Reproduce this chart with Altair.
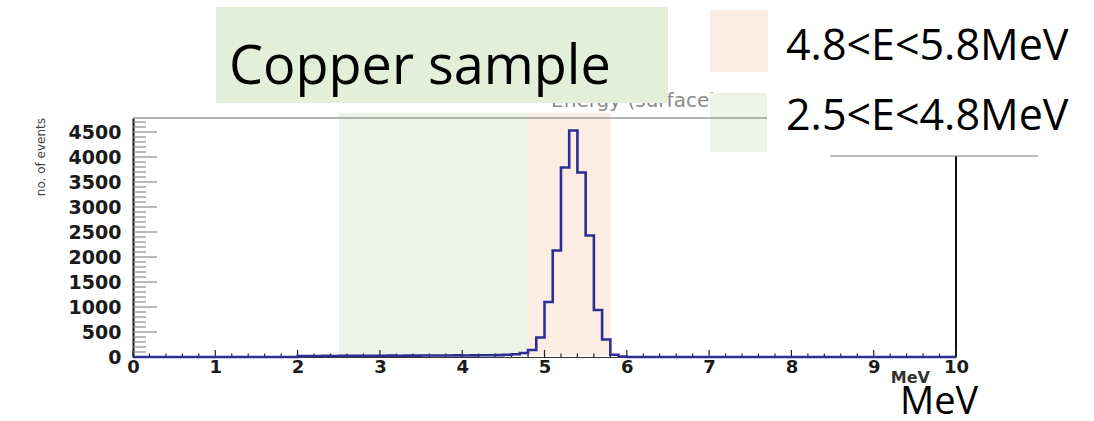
import altair as alt
import numpy as np
import pandas as pd

# Energy histogram of the copper sample, 0.1 MeV bins from 0 to 10 MeV
BIN_WIDTH = 0.1
counts = [
    0, 0, 0, 0, 0, 0, 0, 0, 0, 0,            # 0.0 - 0.9
    0, 0, 0, 0, 0, 0, 0, 0, 0, 0,            # 1.0 - 1.9
    18, 20, 20, 22, 21, 23, 24, 23, 25, 26,  # 2.0 - 2.9
    25, 27, 26, 28, 27, 29, 30, 29, 31, 32,  # 3.0 - 3.9
    31, 33, 34, 35, 38, 45, 55, 80, 140, 390,  # 4.0 - 4.9
    1100, 2130, 3790, 4530, 3690, 2430, 940, 350, 45, 8,  # 5.0 - 5.9
    0, 0, 0, 0, 0, 0, 0, 0, 0, 0,            # 6.0 - 6.9
    0, 0, 0, 0, 0, 0, 0, 0, 0, 0,            # 7.0 - 7.9
    0, 0, 0, 0, 0, 0, 0, 0, 0, 0,            # 8.0 - 8.9
    0, 0, 0, 0, 0, 0, 0, 0, 0, 0,            # 9.0 - 9.9
]

# Energy windows
band_labels = ["2.5<E<4.8MeV", "4.8<E<5.8MeV"]
band_lo = [2.5, 4.8]
band_hi = [4.8, 5.8]
band_colors = ["#edf3e7", "#fbede4"]

# Axis ticks and labels
x_major = list(range(0, 11))
x_minor = [round(v, 1) for v in np.arange(0, 10.01, 0.2) if round(v, 1) % 1 != 0]
y_major = list(range(0, 5000, 500))
y_minor = [v for v in range(0, 4800, 100) if v % 500 != 0]

X_MAX = 10
Y_MAX = 4780
W, H = 823, 239

edges = np.round(np.arange(len(counts) + 1) * BIN_WIDTH, 2)
hist = pd.DataFrame({"E": edges, "n": counts + [counts[-1]]})
bands = pd.DataFrame({"label": band_labels, "lo": band_lo, "hi": band_hi, "color": band_colors})
xmaj = pd.DataFrame({"t": x_major})
xmin = pd.DataFrame({"t": x_minor})
ymaj = pd.DataFrame({"t": y_major})
ymin = pd.DataFrame({"t": y_minor})
one = pd.DataFrame({"k": [0]})

xs = alt.Scale(domain=[0, X_MAX], nice=False, zero=False)
ys = alt.Scale(domain=[0, Y_MAX], nice=False)

LABEL_FONT = "DejaVu Sans"
BOX_FONT = "Open Sans"

band_layer = alt.Chart(bands).mark_rect().encode(
    x=alt.X("lo:Q", scale=xs, axis=None),
    x2="hi:Q",
    y=alt.value(-5),
    y2=alt.value(H - 1),
    color=alt.Color("color:N", scale=None),
)

plot_title = alt.Chart(one).mark_text(
    text="Energy (surface)", font=LABEL_FONT, fontSize=20, color="#8a8a8a",
    align="right", baseline="alphabetic",
).encode(x=alt.value(584), y=alt.value(-11))

copper_box = alt.Chart(one).mark_rect(color="#e2efd9").encode(
    x=alt.value(83), x2=alt.value(535), y=alt.value(-111), y2=alt.value(-15)
)
copper_text = alt.Chart(one).mark_text(
    text="Copper sample", font=BOX_FONT, fontSize=54, color="black",
    align="left", baseline="alphabetic",
).encode(x=alt.value(96), y=alt.value(-34))

swatch_orange = alt.Chart(one).mark_rect(color=band_colors[1]).encode(
    x=alt.value(577), x2=alt.value(635), y=alt.value(-108), y2=alt.value(-46)
)
swatch_green = alt.Chart(one).mark_rect(color=band_colors[0]).encode(
    x=alt.value(577), x2=alt.value(634), y=alt.value(-25), y2=alt.value(34)
)
legend_orange = alt.Chart(one).mark_text(
    text=band_labels[1], font=BOX_FONT, fontSize=43, color="black",
    align="left", baseline="alphabetic",
).encode(x=alt.value(653), y=alt.value(-58))
legend_green = alt.Chart(one).mark_text(
    text=band_labels[0], font=BOX_FONT, fontSize=43, color="black",
    align="left", baseline="alphabetic",
).encode(x=alt.value(653), y=alt.value(12))

# Frame pieces
top_frame = alt.Chart(one).mark_rule(color="#9a9a9a", strokeWidth=1.5).encode(
    x=alt.value(0), x2=alt.value(634), y=alt.value(0)
)
right_frame = alt.Chart(one).mark_rule(color="#111111", strokeWidth=2).encode(
    x=alt.value(W), y=alt.value(38), y2=alt.value(H)
)
stats_edge = alt.Chart(one).mark_rule(color="#777777", strokeWidth=1).encode(
    x=alt.value(697), x2=alt.value(905), y=alt.value(38)
)

# Inward ticks
xt_major = alt.Chart(xmaj).mark_rule(color="#222222", strokeWidth=1.2).encode(
    x=alt.X("t:Q", scale=xs, axis=None), y=alt.value(H), y2=alt.value(H - 7)
)
xt_minor = alt.Chart(xmin).mark_rule(color="#222222", strokeWidth=1.2).encode(
    x=alt.X("t:Q", scale=xs, axis=None), y=alt.value(H), y2=alt.value(H - 3.5)
)
yt_major = alt.Chart(ymaj).mark_rule(color="#8a8a8a", strokeWidth=1.2).encode(
    y=alt.Y("t:Q", scale=ys, axis=None), x=alt.value(0), x2=alt.value(24)
)
yt_minor = alt.Chart(ymin).mark_rule(color="#8a8a8a", strokeWidth=1.2).encode(
    y=alt.Y("t:Q", scale=ys, axis=None), x=alt.value(0), x2=alt.value(13)
)

hist_line = alt.Chart(hist).mark_line(
    interpolate="step-after", color="#2e2d94", strokeWidth=2.6
).encode(
    x=alt.X("E:Q", scale=xs, axis=alt.Axis(
        values=x_major, title=None, ticks=False, grid=False, format="d",
        domainColor="#333333", domainWidth=1,
        labelFont=LABEL_FONT, labelFontSize=18, labelFontWeight="bold",
        labelColor="#1a1a1a", labelPadding=1, labelFlush=False, labelOverlap=False,
    )),
    y=alt.Y("n:Q", scale=ys, axis=alt.Axis(
        values=y_major, title=None, ticks=False, grid=False, format="d",
        domainColor="#111111", domainWidth=2,
        labelFont=LABEL_FONT, labelFontSize=19, labelFontWeight="bold",
        labelColor="#1a1a1a", labelPadding=12, labelFlush=False, labelOverlap=False,
    )),
)

axis_unit = alt.Chart(one).mark_text(
    text="MeV", font=LABEL_FONT, fontSize=16, fontWeight="bold", color="#333333",
    align="right", baseline="alphabetic",
).encode(x=alt.value(797), y=alt.value(265))
big_unit = alt.Chart(one).mark_text(
    text="MeV", font=BOX_FONT, fontSize=38, color="black",
    align="left", baseline="alphabetic",
).encode(x=alt.value(767), y=alt.value(296))
y_title = alt.Chart(one).mark_text(
    text="no. of events", font=LABEL_FONT, fontSize=12, color="#444444",
    align="right", baseline="alphabetic", angle=270,
).encode(x=alt.value(-88), y=alt.value(0))

chart = alt.layer(
    band_layer, plot_title, copper_box, copper_text,
    swatch_orange, swatch_green, legend_orange, legend_green,
    top_frame, right_frame, stats_edge,
    xt_major, xt_minor, yt_major, yt_minor,
    hist_line,
    axis_unit, big_unit, y_title,
).resolve_axis(
    x="independent", y="independent"
).properties(
    width=W, height=H,
    padding={"left": 133, "top": 118, "right": 138, "bottom": 64},
    autosize=alt.AutoSizeParams(type="none"),
    background="white",
).configure_view(stroke=None)

chart.save("out.html", embed_options={"renderer": "svg", "actions": False})
